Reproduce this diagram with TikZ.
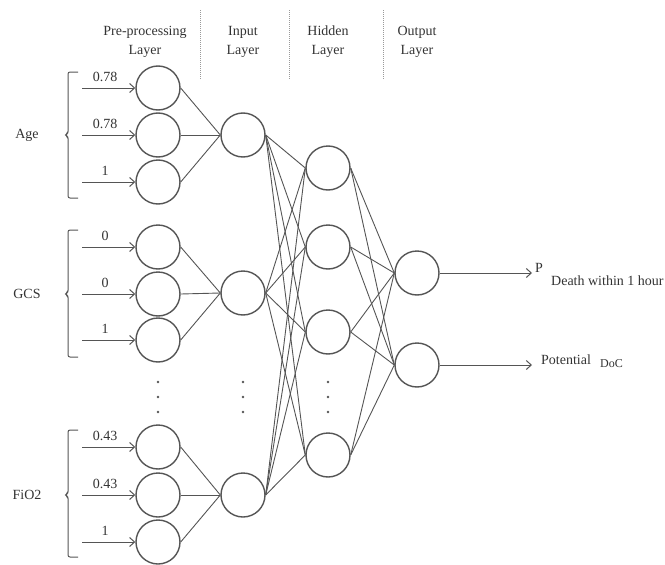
\documentclass[tikz,border=0pt]{standalone}
\usepackage{fontspec}
\setmainfont{Liberation Serif}
\usetikzlibrary{arrows.meta}
\definecolor{ln}{HTML}{555555}
\definecolor{tx}{HTML}{333333}
\begin{document}
\begin{tikzpicture}[x=1pt,y=-1pt,
  neuron/.style={circle,draw=ln,line width=1.4pt,minimum size=44pt,inner sep=0pt},
  link/.style={draw=ln,line width=0.9pt},
  inarrow/.style={draw=ln,line width=1pt,-{Straight Barb[length=5pt,width=9pt,line width=1pt]}},
  txt/.style={text=tx,font=\fontsize{14}{19}\selectfont,inner sep=0pt},
  small/.style={text=tx,font=\fontsize{12}{14}\selectfont,inner sep=0pt},
  sep/.style={draw=gray!80,line width=1pt,dash pattern=on 1pt off 1pt},
  brace/.style={draw=ln,line width=1pt,rounded corners=2pt},
  dot/.style={circle,fill=ln,inner sep=0pt,minimum size=2.6pt}]
\useasboundingbox (0,0) rectangle (665,565);

% headers
\node[txt,align=center] (hpre) at (145,42) {Pre-processing\\Layer};
\node[txt,align=center] (hin) at (243,42) {Input\\Layer};
\node[txt,align=center] (hhid) at (328,42) {Hidden\\Layer};
\node[txt,align=center] (hout) at (417,42) {Output\\Layer};
\coordinate (s1a) at (200,10); \coordinate (s1b) at (200,80);
\coordinate (s2a) at (289,10); \coordinate (s2b) at (289,80);
\coordinate (s3a) at (383,10); \coordinate (s3b) at (383,80);
\draw[sep] (s1a) -- (s1b);
\draw[sep] (s2a) -- (s2b);
\draw[sep] (s3a) -- (s3b);

% pre-processing nodes
\foreach \n/\y in {1/88,2/135,3/182,4/247,5/294,6/340,7/447,8/495,9/542}{
  \node[neuron] (p\n) at (158,\y) {};
  \coordinate (a\n) at (82,\y);
}
% input nodes
\node[neuron] (i1) at (243,135) {};
\node[neuron] (i2) at (243,293) {};
\node[neuron] (i3) at (243,495) {};
% hidden nodes
\node[neuron] (h1) at (328,168) {};
\node[neuron] (h2) at (328,247) {};
\node[neuron] (h3) at (328,332) {};
\node[neuron] (h4) at (328,455) {};
% output nodes
\node[neuron] (o1) at (417,273) {};
\node[neuron] (o2) at (417,365) {};

% input arrows and values
\foreach \n/\v in {1/0.78,2/0.78,3/1,4/0,5/0,6/1,7/0.43,8/0.43,9/1}{
  \draw[inarrow] (a\n) -- (p\n.west);
  \node[txt,anchor=base] (v\n) at ([shift={(23,-7)}]a\n) {\v};
}

% pre -> input
\foreach \n in {1,2,3}{\draw[link] (p\n.east) -- (i1.west);}
\foreach \n in {4,5,6}{\draw[link] (p\n.east) -- (i2.west);}
\foreach \n in {7,8,9}{\draw[link] (p\n.east) -- (i3.west);}
% input -> hidden
\foreach \i in {1,2,3}{\foreach \h in {1,2,3,4}{\draw[link] (i\i.east) -- (h\h.west);}}
% hidden -> output
\foreach \h in {1,2,3,4}{\foreach \o in {1,2}{\draw[link] (h\h.east) -- (o\o.west);}}

% outputs
\coordinate (e1) at (532,273);
\coordinate (e2) at (532,365);
\draw[inarrow] (o1.east) -- (e1);
\draw[inarrow] (o2.east) -- (e2);
\node[txt,anchor=base west] (pout) at (535,272) {P};
\node[txt,anchor=base west] (psub) at (551,285) {Death within 1 hour};
\node[txt,anchor=base west] (pot) at (541,364) {Potential};
\node[small,anchor=base west] (doc) at (600,367) {DoC};

% braces and labels
\foreach \t/\m/\b/\lab/\nm in {72/135/198/Age/age,230/294/357/GCS/gcs,430/495/557/FiO2/fio}{
  \draw[brace] (78,\t) -- (68,\t) -- (68,\m-1.5) -- (65,\m) -- (68,\m+1.5) -- (68,\b) -- (78,\b);
  \node[txt] (\nm) at (27,\m) {\lab};
}

% dots
\foreach \x/\c in {158/p,243/i,328/h}{
  \foreach \y/\k in {382/1,397/2,412/3}{\node[dot] (d\c\k) at (\x,\y) {};}
}
\end{tikzpicture}
\end{document}
